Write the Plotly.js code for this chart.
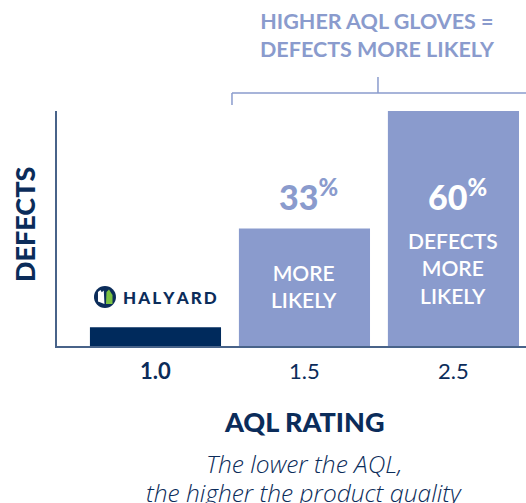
<!DOCTYPE html>
<html>
<head>
<meta charset="utf-8">
<script src="https://cdn.plot.ly/plotly-3.0.1.min.js"></script>
<style>html,body{margin:0;padding:0;background:#fff;}#chart{width:526px;height:503px;}</style>
</head>
<body>
<div id="chart"></div>
<script>
// ---- data ----
var categories = ['1.0', '1.5', '2.5'];
var tickLabels = ['<b>1.0</b>', '1.5', '2.5'];
var defects = [8, 50, 100];
var pctLabels = ['', '33', '60'];
var barLabels = ['', 'MORE<br>LIKELY', 'DEFECTS<br>MORE<br>LIKELY'];
var barColors = ['#002a5c', '#8a9bcd', '#8a9bcd'];
var subtitleLines = ['The lower the AQL,', 'the higher the product quality'];

var NAVY = '#0b2c5a';
var LIGHT = '#8a9bcd';
var FONT = 'Lato, "Open Sans", sans-serif';

var trace = {
  type: 'bar',
  x: categories,
  y: defects,
  marker: {color: barColors, line: {width: 0}},
  width: 0.88,
  hoverinfo: 'skip'
};

var annotations = [
  {xref: 'paper', yref: 'paper', x: 0.6844, y: 1.3234, xanchor: 'center', yanchor: 'middle',
   text: 'HIGHER AQL GLOVES =<br>DEFECTS MORE LIKELY', showarrow: false,
   font: {family: FONT, size: 21.5, color: LIGHT, weight: 700}},
  {xref: 'paper', yref: 'paper', x: -0.068, y: 0.515, xanchor: 'center', yanchor: 'middle',
   text: 'DEFECTS', textangle: -90, showarrow: false,
   font: {family: FONT, size: 27, color: NAVY, weight: 900}},
  {xref: 'paper', yref: 'paper', x: 0.5256, y: -0.3234, xanchor: 'center', yanchor: 'middle',
   text: 'AQL RATING', showarrow: false,
   font: {family: FONT, size: 27, color: NAVY, weight: 900}},
  {xref: 'paper', yref: 'paper', x: 0.5256, y: -0.5021, xanchor: 'center', yanchor: 'middle',
   text: subtitleLines[0], showarrow: false,
   font: {family: '"Open Sans", Lato, sans-serif', size: 24.5, color: NAVY, weight: 300, style: 'italic'}},
  {xref: 'paper', yref: 'paper', x: 0.5256, y: -0.6213, xanchor: 'center', yanchor: 'middle',
   text: subtitleLines[1], showarrow: false,
   font: {family: '"Open Sans", Lato, sans-serif', size: 24.5, color: NAVY, weight: 300, style: 'italic'}},
  {xref: 'paper', yref: 'paper', x: 0.2405, y: 0.2085, xanchor: 'center', yanchor: 'middle',
   text: 'H\u2009A\u2009L\u2009Y\u2009A\u2009R\u2009D', showarrow: false,
   font: {family: FONT, size: 17, color: NAVY, weight: 900}}
];

// percentage + inner labels (x given as category index)
var pctY = 64.3;
var innerY = [0, 25.7, 33.2];
var pctColors = ['', LIGHT, '#ffffff'];
for (var i = 0; i < categories.length; i++) {
  if (pctLabels[i]) {
    annotations.push({x: i, y: pctY, xref: 'x', yref: 'y', xanchor: 'center', yanchor: 'middle',
      xshift: 4, text: pctLabels[i] + '<sup>%</sup>', showarrow: false,
      font: {family: FONT, size: 34, color: pctColors[i], weight: 900}});
  }
  if (barLabels[i]) {
    annotations.push({x: i, y: innerY[i], xref: 'x', yref: 'y', xanchor: 'center', yanchor: 'middle',
      text: barLabels[i], showarrow: false,
      font: {family: FONT, size: 21, color: '#ffffff', weight: 600}});
  }
}

var lineStyle = {color: LIGHT, width: 1.5};
var shapes = [
  // bracket
  {type: 'line', xref: 'paper', yref: 'paper', x0: 0.6844, x1: 0.6844, y0: 1.1447, y1: 1.0766, line: lineStyle},
  {type: 'line', xref: 'paper', yref: 'paper', x0: 0.3731, x1: 1.0, y0: 1.0766, y1: 1.0766, line: lineStyle},
  {type: 'line', xref: 'paper', yref: 'paper', x0: 0.3731, x1: 0.3731, y0: 1.0766, y1: 1.0255, line: lineStyle},
  // logo circle
  {type: 'circle', xref: 'paper', yref: 'paper', xsizemode: 'pixel', ysizemode: 'pixel',
   xanchor: 0.1023, yanchor: 0.2085, x0: -11, x1: 11, y0: -11, y1: 11,
   fillcolor: NAVY, line: {width: 0}},
  // logo white sail
  {type: 'path', xref: 'paper', yref: 'paper', xsizemode: 'pixel', ysizemode: 'pixel',
   xanchor: 0.1023, yanchor: 0.2085,
   path: 'M -7 -4.5 L -7 5 L -4.5 7 L -3.2 4.8 L -1.2 6.5 L -0.5 -7 Z',
   fillcolor: '#ffffff', line: {width: 0}},
  // logo green sail
  {type: 'path', xref: 'paper', yref: 'paper', xsizemode: 'pixel', ysizemode: 'pixel',
   xanchor: 0.1023, yanchor: 0.2085,
   path: 'M 1 -7 L 7.5 -7 L 7.5 2 L 4 7.5 L 1.5 5 Z',
   fillcolor: '#7cc242', line: {width: 0}}
];

var layout = {
  width: 526, height: 503,
  margin: {l: 57, r: 0, t: 111, b: 157},
  paper_bgcolor: '#ffffff', plot_bgcolor: '#ffffff',
  showlegend: false,
  font: {family: FONT, color: NAVY},
  xaxis: {
    type: 'category', range: [-0.661, 2.487],
    tickvals: categories, ticktext: tickLabels,
    tickfont: {family: FONT, size: 22, color: NAVY},
    showline: true, linecolor: '#486389', linewidth: 2,
    showgrid: false, zeroline: false, ticks: '', ticklabelstandoff: 5,
    fixedrange: true
  },
  yaxis: {
    range: [0, 100], showline: true, linecolor: '#486389', linewidth: 2,
    showticklabels: false, ticks: '', showgrid: false, zeroline: false, fixedrange: true
  },
  annotations: annotations,
  shapes: shapes
};

Plotly.newPlot('chart', [trace], layout, {displayModeBar: false, staticPlot: true});
</script>
</body>
</html>
